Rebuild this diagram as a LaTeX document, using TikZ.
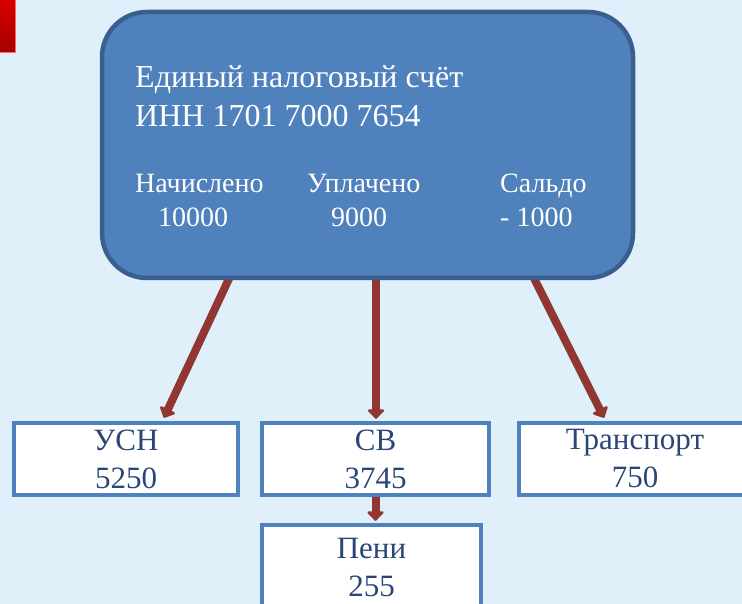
\documentclass[tikz,border=0pt]{standalone}
\usepackage{fontspec}
\setmainfont{Liberation Serif}
\usetikzlibrary{arrows.meta,calc}
\definecolor{bgc}{HTML}{DFF0FA}
\definecolor{mainfill}{HTML}{4F81BD}
\definecolor{mainborder}{HTML}{3A5F8F}
\definecolor{boxborder}{HTML}{4F81BD}
\definecolor{boxtext}{HTML}{2A4677}
\definecolor{arrc}{HTML}{913633}
\pgfdeclarelayer{bglayer}
\pgfdeclarelayer{arrlayer}
\pgfsetlayers{bglayer,arrlayer,main}
\tikzset{
  mainbox/.style={draw=mainborder, fill=mainfill, line width=4.5pt, rounded corners=45pt, inner sep=0pt},
  childbox/.style={draw=boxborder, fill=white, line width=4.5pt, inner sep=0pt, align=center,
    text=boxtext, font=\fontsize{31}{38}\selectfont},
  titletext/.style={anchor=base west, text=white, inner sep=0pt, font=\fontsize{32}{40}\selectfont},
  rowtext/.style={anchor=base west, text=white, inner sep=0pt, font=\fontsize{28}{34}\selectfont},
  arr/.style={draw=arrc, line width=8pt, -{Triangle[length=10pt,width=19pt,round]}}
}
\begin{document}
\begin{tikzpicture}[x=1pt,y=-1pt]
\begin{pgfonlayer}{bglayer}
\fill[bgc] (0,0) rectangle (742,604);
\end{pgfonlayer}
\useasboundingbox (0,0) rectangle (742,604);
% red corner mark
\shade[top color=red!85!black, bottom color=red!65!black, draw=red!60!white, line width=0.8pt] (-2,-2) rectangle (15,52);
% main account box
\node[mainbox, minimum width=531pt, minimum height=266pt] (main) at (367.5,145) {};
\node[titletext] (t1) at (135,88) {Единый налоговый счёт};
\node[titletext] (t2) at (135,127) {ИНН 1701 7000 7654};
\node[rowtext] (l1) at (135,193) {Начислено};
\node[rowtext] (l2) at (307,193) {Уплачено};
\node[rowtext] (l3) at (500,193) {Сальдо};
\node[rowtext] (n1) at (158,227) {10000};
\node[rowtext] (n2) at (331,227) {9000};
\node[rowtext] (n3) at (500,227) {- 1000};
% child boxes
\node[childbox, minimum width=224pt, minimum height=72pt] (usn) at (126,459) {УСН\\5250};
\node[childbox, minimum width=227pt, minimum height=72pt] (sv) at (375.5,459) {СВ\\3745};
\node[childbox, minimum width=232pt, minimum height=72pt] (tr) at (635,459) {Транспорт\\750};
\node[childbox, minimum width=219pt, minimum height=84pt] (peni) at (371.5,567) {Пени\\255};
% connectors
\begin{pgfonlayer}{arrlayer}
\draw[arr] ($(main.south)+(-135.5,-8)$) -- ($(usn.north)+(38,-3)$);
\draw[arr] ($(main.south)+(8.5,-8)$) -- ($(sv.north)+(0.5,-2)$);
\draw[arr] ($(main.south)+(163.5,-8)$) -- ($(tr.north)+(-31,-3)$);
\draw[arr] (sv.south) -- ($(sv.south |- peni.north)+(0,-2)$);
\end{pgfonlayer}
\end{tikzpicture}
\end{document}
